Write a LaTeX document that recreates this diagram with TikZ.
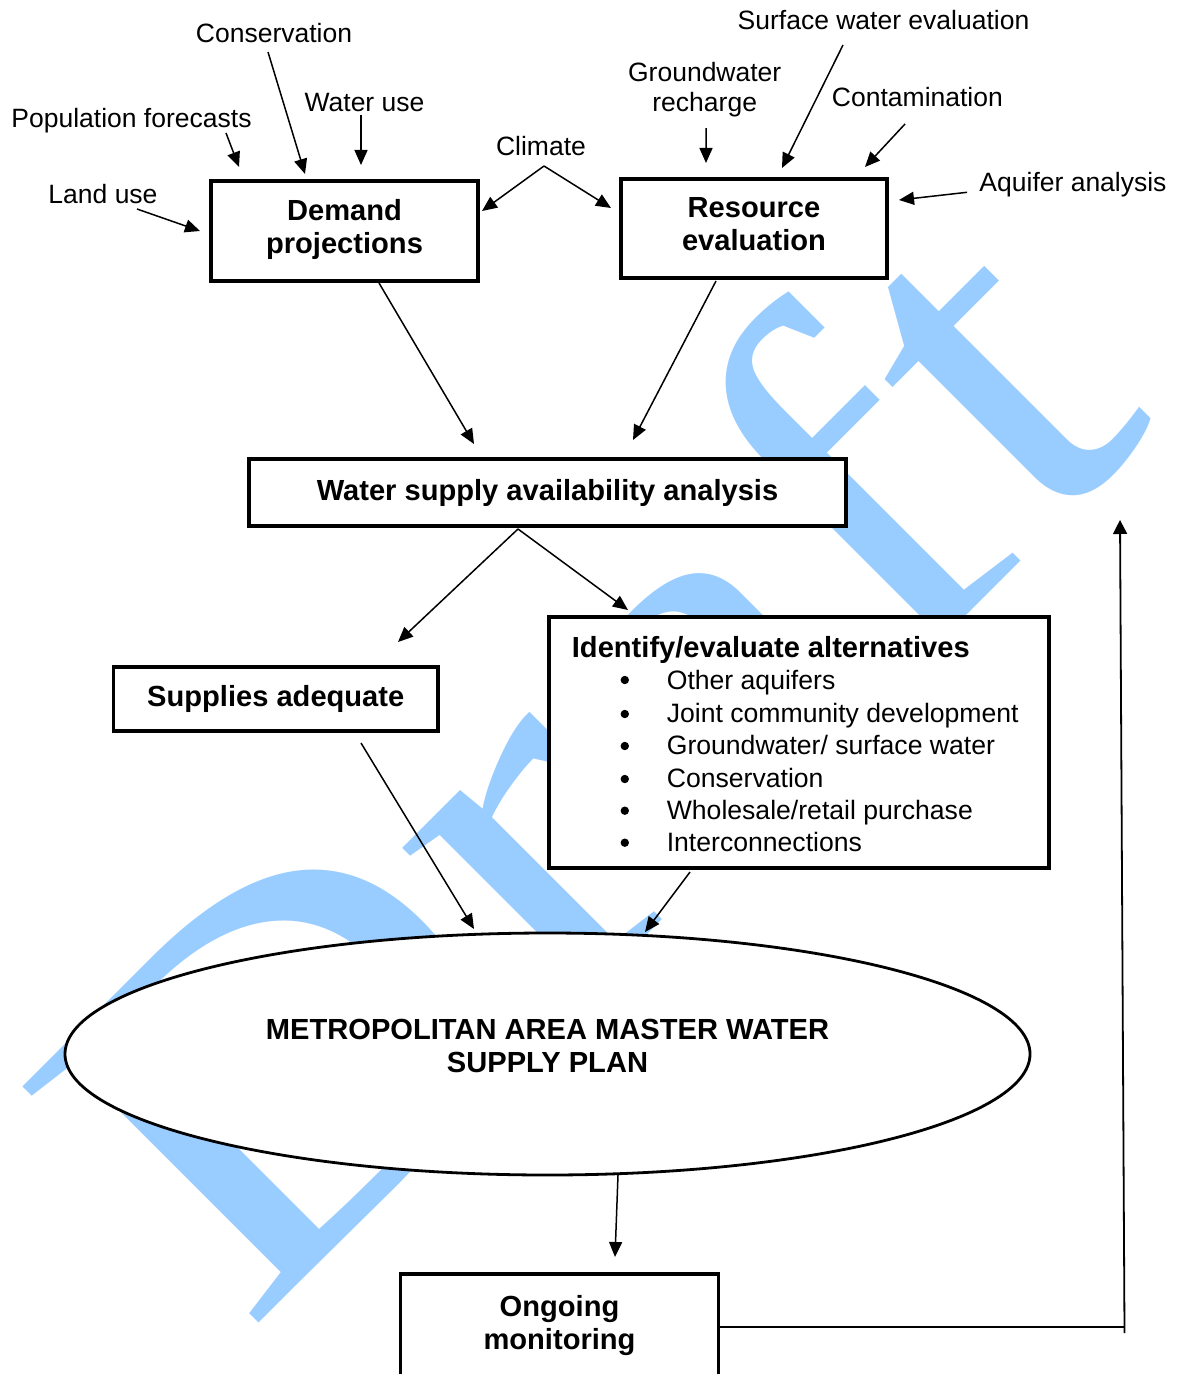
\documentclass[tikz,border=0pt]{standalone}
\usepackage{fontspec}
\setmainfont{Liberation Sans}
\newfontfamily\wmfont{Liberation Serif}
\usetikzlibrary{arrows.meta,shapes.geometric,calc}
\definecolor{wmblue}{RGB}{153,204,255}
\begin{document}
\begin{tikzpicture}[x=0.5pt,y=-0.5pt,
  box/.style={draw, line width=1.7pt, fill=white, inner sep=0pt, outer sep=0pt},
  btxt/.style={font=\fontsize{14.55}{16.5}\selectfont\bfseries, align=center, inner sep=0pt},
  lbl/.style={font=\fontsize{13.25}{15}\selectfont, inner sep=0pt, anchor=base},
  itm/.style={font=\fontsize{13.3}{15}\selectfont, inner sep=0pt, anchor=base west},
  arr/.style={line width=0.75pt, -{Triangle[length=7.5pt,width=6.5pt]}},
  fbline/.style={line width=0.9pt},
  wm/.style={font=\wmfont\fontsize{255}{255}\selectfont, text=wmblue, inner sep=0pt}]
\fill[white] (0,0) rectangle (1177,1374);
\useasboundingbox (0,0) rectangle (1177,1374);
% watermark
\node[wm, rotate=45, xscale=1.2, anchor=base west] (draft) at (246.4,1335.6) {Draft};
% boxes
\node[box, minimum width=133.5pt, minimum height=50pt] (dem) at (344.5,231) {};
\node[btxt] (demt) at (344.5,229.5) {Demand\\projections};
\node[box, minimum width=133pt, minimum height=49.5pt] (res) at (754,228.5) {};
\node[btxt] (rest) at (754,224) {Resource\\evaluation};
\node[box, btxt, minimum width=298.5pt, minimum height=33.5pt] (wsa) at (547.5,492.5) {Water supply availability analysis};
\node[box, btxt, minimum width=162.25pt, minimum height=32pt] (sup) at (275.75,699) {Supplies adequate};
\node[box, minimum width=250pt, minimum height=125.5pt] (alt) at (799,742.5) {};
\node[btxt, anchor=base west] (altt) at (571.5,657) {Identify/evaluate alternatives};
\foreach \yb/\yt/\t [count=\i] in {680/689/{Other aquifers}, 714/722/{Joint community development}, 746/754/{Groundwater/ surface water}, 779/787/{Conservation}, 810.7/819/{Wholesale/retail purchase}, 842.7/851/{Interconnections}}{
  \fill (624.8,\yb) circle (2.1pt);
  \node[itm] (item\i) at (666.4,\yt) {\t};
}
\node[ellipse, draw, line width=1.4pt, fill=white, minimum width=482.5pt, minimum height=121pt, inner sep=0pt, outer sep=0pt] (plan) at (547.5,1054) {};
\node[btxt] (plant) at (547.5,1046) {METROPOLITAN AREA MASTER WATER\\SUPPLY PLAN};
\node[box, anchor=north west, minimum width=159pt, minimum height=80pt] (mon) at (400.5,1274) {};
\node[btxt] (mont) at (559.5,1325.5) {Ongoing\\monitoring};
% labels
\node[lbl] (lcons) at (274,43) {Conservation};
\node[lbl] (lwat) at (364.5,112) {Water use};
\node[lbl] (lpop) at (131.5,128) {Population forecasts};
\node[lbl] (lland) at (103,204) {Land use};
\node[lbl] (lclim) at (541,156) {Climate};
\node[lbl, align=center, anchor=center] (lgw) at (704.7,90) {Groundwater\\recharge};
\node[lbl] (lsurf) at (883.5,30) {Surface water evaluation};
\node[lbl] (lcont) at (917.4,107) {Contamination};
\node[lbl] (laq) at (1073,192) {Aquifer analysis};
% label arrows
\draw[arr] ($(lcons.base)+(-6,9)$) -- ($(dem.north west)+(94,-7)$);
\draw[arr] ($(lpop.base)+(94.5,5)$) -- ($(dem.north west)+(28,-14)$);
\draw[arr] ($(lwat.base)+(-3.5,3)$) -- ($(dem.north west)+(150,-16)$);
\draw[arr] ($(lland.base)+(34,5)$) -- ($(dem.west)+(-11,0)$);
\coordinate (apex) at ($(lclim.base)+(3,10)$);
\draw[arr] (apex) -- ($(dem.north east)+(4,30)$);
\draw[arr] (apex) -- ($(res.north west)+(-10,29)$);
\draw[arr] ($(lgw.south)+(1.3,10.4)$) -- ($(res.north west)+(85,-16)$);
\draw[arr] ($(lsurf.base)+(-40.5,15)$) -- ($(res.north west)+(161,-11)$);
\draw[arr] ($(lcont.base)+(-12.4,17)$) -- ($(res.north east)+(-22,-12)$);
\draw[arr] ($(laq.base west)+(-12,0.3)$) -- ($(res.north east)+(12,21)$);
% flow arrows
\draw[arr] ($(dem.south)+(34.5,2)$) -- ($(wsa.north west)+(225,-15)$);
\draw[arr] ($(res.south west)+(95,3)$) -- ($(wsa.north west)+(384,-19)$);
\coordinate (split) at ($(wsa.south west)+(269,3)$);
\draw[arr] (split) -- ($(sup.north east)+(-40,-25)$);
\draw[arr] (split) -- ($(alt.north west)+(79,-7)$);
\draw[arr] ($(sup.south west)+(247.5,12)$) -- ($(plan.north)+(-73.5,-4)$);
\draw[arr] ($(alt.south west)+(141,4)$) -- ($(plan.north)+(97.5,-1)$);
\draw[arr] ($(plan.south)+(70.5,0)$) -- ($(mon.north west)+(214.5,-17)$);
% feedback
\coordinate (fbbot) at ($(mon.north east)+(406,59)$);
\coordinate (fbtop) at ($(mon.north east)+(401.5,-754)$);
\draw[fbline] ($(mon.north east)+(0,53)$) -- ($(mon.north east)+(406,53)$);
\draw[fbline, -{Triangle[length=7pt,width=7pt]}] (fbbot) -- (fbtop);
\end{tikzpicture}
\end{document}
